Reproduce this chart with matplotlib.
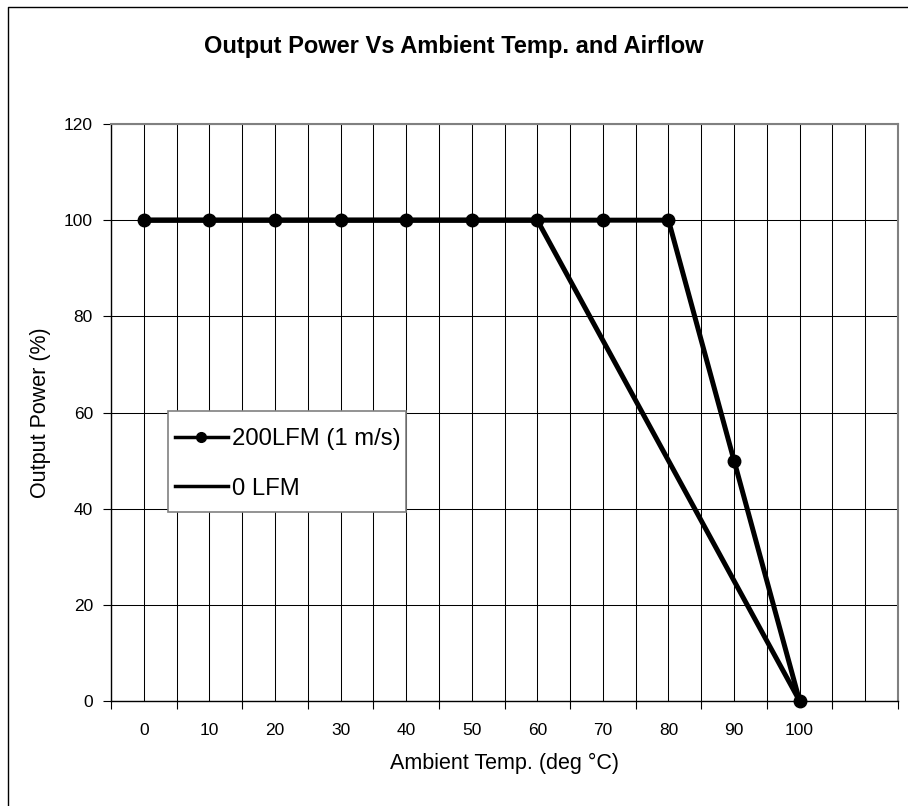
import numpy as np
import matplotlib.pyplot as plt
from matplotlib.lines import Line2D
from matplotlib.patches import Rectangle

plt.rcParams['font.family'] = ['Liberation Sans', 'DejaVu Sans']

# --- DATA ---
categories = ['0', '10', '20', '30', '40', '50', '60', '70', '80', '90', '100', '']
temps_200 = [0, 10, 20, 30, 40, 50, 60, 70, 80, 90, 100]
power_200 = [100, 100, 100, 100, 100, 100, 100, 100, 100, 50, 0]
temps_0 = [0, 10, 20, 30, 40, 50, 60, 100]
power_0 = [100, 100, 100, 100, 100, 100, 100, 0]
y_ticks = [0, 20, 40, 60, 80, 100, 120]

# category axis: each temperature sits at its category index
pos_200 = [categories.index(str(t)) for t in temps_200]
pos_0 = [categories.index(str(t)) for t in temps_0]
n_cat = len(categories)

W, H = 908, 806
fig = plt.figure(figsize=(W / 100, H / 100), dpi=100)
ax = fig.add_axes([111 / W, 1 - 701 / H, (898 - 111) / W, (701 - 124) / H])

ax.plot(pos_0, power_0, color='black', linewidth=3.6, zorder=3, clip_on=False)
ax.plot(pos_200, power_200, color='black', linewidth=3.6, marker='o',
        markersize=9, zorder=3, clip_on=False)

ax.set_xlim(-0.5, n_cat - 0.5)
ax.set_ylim(0, 120)

# major ticks on category boundaries, labels on category centres
ax.set_xticks(np.arange(-0.5, n_cat, 1.0))
ax.set_xticklabels([])
ax.set_xticks(np.arange(n_cat), minor=True)
ax.set_xticklabels(categories, minor=True)
ax.tick_params(axis='x', which='major', direction='out', length=6, width=0.8, color='black')
ax.tick_params(axis='x', which='minor', length=0, pad=15.5, labelsize=12.5)
ax.set_yticks(y_ticks)
ax.tick_params(axis='y', direction='out', length=6, width=0.8, pad=7, labelsize=12.5)

ax.grid(True, which='both', axis='x', color='black', linewidth=0.75, zorder=1)
ax.grid(True, which='major', axis='y', color='black', linewidth=0.75, zorder=1)
ax.set_axisbelow(True)

ax.spines['left'].set_color('black')
ax.spines['bottom'].set_color('black')
ax.spines['left'].set_linewidth(1.0)
ax.spines['bottom'].set_linewidth(1.0)
ax.spines['top'].set_color('#808080')
ax.spines['right'].set_color('#808080')
ax.spines['top'].set_linewidth(1.5)
ax.spines['right'].set_linewidth(1.5)

ax.set_xlabel('Ambient Temp. (deg °C)', fontsize=15.5, labelpad=11)
ax.set_ylabel('Output Power (%)', fontsize=15.5, labelpad=9)

fig.text(0.5, 1 - 47 / H, 'Output Power Vs Ambient Temp. and Airflow',
         ha='center', va='center', fontsize=17, fontweight='bold')

# legend box (white, grey border) and entries
box = Rectangle((168 / W, 1 - 512 / H), (406 - 168) / W, (512 - 411) / H,
                transform=fig.transFigure, facecolor='white', edgecolor='#808080',
                linewidth=1.2, zorder=4)
ax.add_patch(box)
box.set_clip_on(False)
handles = [Line2D([], [], color='black', linewidth=2.5, marker='o', markersize=7),
           Line2D([], [], color='black', linewidth=2.5)]
leg = ax.legend(handles, ['200LFM (1 m/s)', '0 LFM'], loc='center left',
                bbox_to_anchor=(175 / W, 1 - 464 / H), bbox_transform=fig.transFigure,
                frameon=False, fontsize=17.2, handlelength=2.2, handletextpad=0.2,
                borderpad=0, borderaxespad=0, labelspacing=1.16)
leg.set_zorder(5)

# outer chart border (cropped at right and bottom)
fig.add_artist(Line2D([8 / W, 8 / W, 1.0], [0.0, 1 - 7 / H, 1 - 7 / H],
                      transform=fig.transFigure, color='black', linewidth=1.0))

plt.savefig('out.png', dpi=100)
plt.close()
